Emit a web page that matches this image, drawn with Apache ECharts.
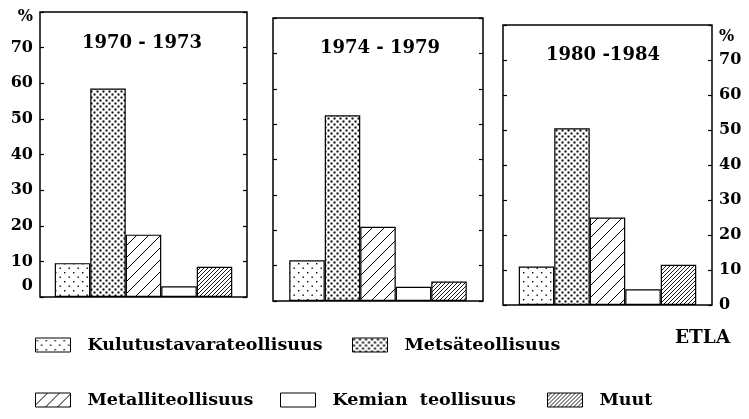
<!DOCTYPE html>
<html><head><meta charset="utf-8">
<script src="https://cdn.jsdelivr.net/npm/echarts@6/dist/echarts.min.js"></script>
<style>html,body{margin:0;padding:0;background:#fff}#c{width:749px;height:419px}</style>
</head><body><div id="c"></div>
<script>
// ---- data ----
const periods = ['1970 - 1973', '1974 - 1979', '1980 -1984'];
const industries = ['Kulutustavarateollisuus', 'Metsäteollisuus', 'Metalliteollisuus', 'Kemian  teollisuus', 'Muut'];
const kulutus = [9.5, 11.5, 11];
const metsa   = [58.5, 52.5, 50.5];
const metalli = [17.5, 21, 25];
const kemia   = [3, 4, 4.5];
const muut    = [8.5, 5.5, 11.5];
const yMax = 80;          // top of frame, labelled '%'
const yStep = 10;
const source = 'ETLA';

const values = [kulutus, metsa, metalli, kemia, muut];
const FONT = '"DejaVu Serif", serif';

// ---- patterns ----
function pat(size, draw) {
  const c = document.createElement('canvas');
  c.width = c.height = size;
  const g = c.getContext('2d');
  g.fillStyle = '#fff'; g.fillRect(0, 0, size, size);
  g.fillStyle = '#000'; g.strokeStyle = '#000';
  draw(g, size);
  return { image: c, repeat: 'repeat' };
}
function diag(g, s, w) {
  g.lineWidth = w;
  g.beginPath();
  g.moveTo(0, s); g.lineTo(s, 0);
  g.moveTo(-s / 2, s / 2); g.lineTo(s / 2, -s / 2);
  g.moveTo(s / 2, s * 1.5); g.lineTo(s * 1.5, s / 2);
  g.stroke();
}
const patterns = [
  pat(9, g => { g.fillRect(1, 2, 1.4, 1.4); g.fillRect(5.5, 6.5, 1.4, 1.4); }),
  pat(6, g => { g.fillRect(0.5, 0.5, 2, 2); g.fillRect(3.5, 3.5, 2, 2); }),
  pat(12, (g, s) => diag(g, s, 1)),
  '#ffffff',
  pat(4, (g, s) => diag(g, s, 0.9))
];

// ---- layout ----
const grids = [
  { left: 40, top: 12, width: 207, height: 285 },
  { left: 273, top: 18, width: 210, height: 283 },
  { left: 503, top: 25, width: 209, height: 280 }
];
const titlePos = [[142, 43], [380, 48], [603, 55]];

const labelStyle = { fontFamily: FONT, fontWeight: 'bold', fontSize: 16, color: '#000' };
const rich = {
  pctL: { ...labelStyle, padding: [10, 0, 0, 0] },
  pctR: { ...labelStyle, padding: [24, 0, 0, 0] },
  zeroL: { ...labelStyle, padding: [0, 0, 22, 0] }
};
const fmtL = v => (v === yMax ? '{pctL|%}' : v === 0 ? '{zeroL|0}' : String(v));
const fmtR = v => (v === yMax ? '{pctR|%}' : String(v));

const xAxis = [], yAxis = [], series = [];
grids.forEach((gr, i) => {
  xAxis.push({ type: 'category', gridIndex: i, data: [periods[i]],
    axisLine: { show: false }, axisTick: { show: false }, axisLabel: { show: false } });
  ['left', 'right'].forEach(pos => {
    const showLab = (i === 0 && pos === 'left') || (i === 2 && pos === 'right');
    yAxis.push({ type: 'value', gridIndex: i, position: pos, min: 0, max: yMax, interval: yStep,
      axisLine: { show: false }, splitLine: { show: false },
      axisTick: { show: true, inside: true, length: 4, lineStyle: { color: '#000', width: 1.2 } },
      axisLabel: { show: showLab, formatter: pos === 'left' ? fmtL : fmtR, margin: 7, rich, ...labelStyle } });
  });
  industries.forEach((name, j) => {
    series.push({ type: 'bar', name, xAxisIndex: i, yAxisIndex: i * 2,
      data: [values[j][i]], barWidth: 35.5, barGap: '0%',
      itemStyle: { color: patterns[j], borderColor: '#000', borderWidth: 1.2 },
      emphasis: { disabled: true }, animation: false });
  });
});

const legendPos = [[35, 336], [352, 336], [35, 391], [280, 391], [547, 391]];
const legend = industries.map((name, j) => ({
  data: [name], left: legendPos[j][0], top: legendPos[j][1], padding: 0,
  itemWidth: 35, itemHeight: 14, icon: 'rect', selectedMode: false,
  itemStyle: { borderColor: '#000', borderWidth: 1 },
  textStyle: { fontFamily: FONT, fontWeight: 'bold', fontSize: 17.5, color: '#000', padding: [0, 0, 0, 12] }
}));

const graphic = periods.map((p, i) => ({
  type: 'text', x: titlePos[i][0], y: titlePos[i][1],
  style: { text: p, textAlign: 'center', textVerticalAlign: 'middle',
    font: 'bold 18px ' + FONT, fill: '#000' }
}));
graphic.push({ type: 'text', x: 675, y: 338,
  style: { text: source, textVerticalAlign: 'middle', font: 'bold 18.5px ' + FONT, fill: '#000' } });

const chart = echarts.init(document.getElementById('c'));
chart.setOption({
  animation: false,
  backgroundColor: '#fff',
  grid: grids.map(g => ({ ...g, show: true, borderColor: '#000', borderWidth: 1.5, backgroundColor: 'transparent' })),
  xAxis, yAxis, series, legend, graphic
});
</script></body></html>
